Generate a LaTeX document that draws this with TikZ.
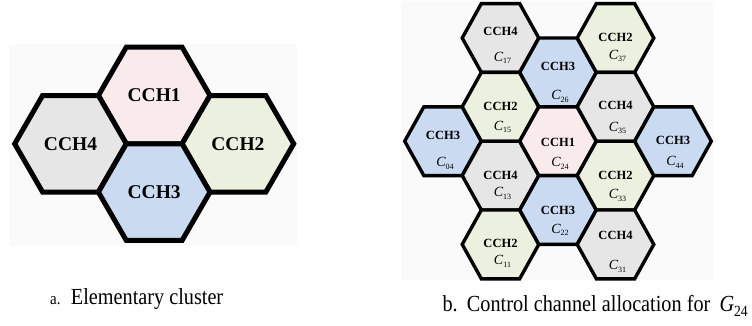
\documentclass[tikz,border=0pt]{standalone}
\usepackage{fontspec}
\setmainfont{Liberation Serif}
\newfontfamily\capfont[FakeStretch=0.88]{Liberation Serif}
\definecolor{pinkc}{HTML}{F9EBEB}
\definecolor{greenc}{HTML}{EBF1DE}
\definecolor{bluec}{HTML}{C9DAF1}
\definecolor{grayc}{HTML}{E6E6E6}
\definecolor{bgc}{HTML}{FAFAFA}
\tikzset{
  hexA/.pic={\path[pic actions] (-55.8,0) -- (-27.9,-48.3) -- (27.9,-48.3) -- (55.8,0) -- (27.9,48.3) -- (-27.9,48.3) -- cycle;},
  hexB/.pic={\path[pic actions] (-38.3,0) -- (-19.15,-34.4) -- (19.15,-34.4) -- (38.3,0) -- (19.15,34.4) -- (-19.15,34.4) -- cycle;},
  cellA/.style={draw=black, line width=5pt, line join=miter},
  cellB/.style={draw=black, line width=3.4pt, line join=miter},
  labA/.style={inner sep=0pt, font=\fontsize{19.5}{20}\selectfont\bfseries},
  labB/.style={inner sep=0pt, font=\fontsize{12.5}{13}\selectfont\bfseries},
  subB/.style={inner sep=0pt, font=\fontsize{14}{15}\selectfont},
  capstyle/.style={inner sep=0pt, font=\capfont\fontsize{23}{24}\selectfont},
  panel/.style={fill=bgc, draw=none}
}
\begin{document}
\begin{tikzpicture}[x=1pt,y=-1pt]
\useasboundingbox (0,0) rectangle (752,325);
\fill[white] (0,0) rectangle (752,325);
% panel backgrounds
\path[panel] (9,44) rectangle (297,246);
\path[panel] (401,1) rectangle (713,280);
% panel a
\pic[cellA, fill=pinkc]  at (154.2,95.5)  {hexA};
\pic[cellA, fill=grayc]  at (70.5,143.8)  {hexA};
\pic[cellA, fill=greenc] at (237.9,143.8) {hexA};
\pic[cellA, fill=bluec]  at (154.2,192.1) {hexA};
\node[labA] (a1) at (154.2,95.5)  {CCH1};
\node[labA] (a4) at (70.5,143.8)  {CCH4};
\node[labA] (a2) at (237.9,143.8) {CCH2};
\node[labA] (a3) at (154.2,192.1) {CCH3};
% panel b
\foreach \x/\y/\c/\k/\s/\da/\db in {
  443/141.2/bluec/3/04/-6/22,
  500.5/38/grayc/4/17/-7/20,
  500.5/106.8/greenc/2/15/0/20,
  500.5/175.6/grayc/4/13/0/18,
  500.5/244.4/greenc/2/11/-1/17,
  558/72.4/bluec/3/26/-6/24,
  558/141.2/pinkc/1/24/1/22,
  558/210/bluec/3/22/0/20,
  615.5/38/greenc/2/37/-1/18,
  615.5/106.8/grayc/4/35/-1/21,
  615.5/175.6/greenc/2/33/0/20,
  615.5/244.4/grayc/4/31/-9/22,
  673/141.2/bluec/3/44/-1/21}{
  \pic[cellB, fill=\c] at (\x,\y) {hexB};
}
\foreach \x/\y/\c/\k/\s/\da/\db in {
  443/141.2/bluec/3/04/-6/22,
  500.5/38/grayc/4/17/-7/20,
  500.5/106.8/greenc/2/15/0/20,
  500.5/175.6/grayc/4/13/0/18,
  500.5/244.4/greenc/2/11/-1/17,
  558/72.4/bluec/3/26/-6/24,
  558/141.2/pinkc/1/24/1/22,
  558/210/bluec/3/22/0/20,
  615.5/38/greenc/2/37/-1/18,
  615.5/106.8/grayc/4/35/-1/21,
  615.5/175.6/greenc/2/33/0/20,
  615.5/244.4/grayc/4/31/-9/22,
  673/141.2/bluec/3/44/-1/21}{
  \node[labB] (h\s) at ({\x},{\y+\da}) {CCH\k};
  \node[subB] (c\s) at ({\x+2},{\y+\db}) {\textit{C}\raisebox{-2.5pt}{\fontsize{8}{8}\selectfont\s}};
}
% captions
\node[capstyle, anchor=base west] (capA) at (50,304)
  {{\fontsize{17}{17}\selectfont a.}\hspace{0.45em}Elementary cluster};
\node[capstyle, anchor=base east] (capB) at (748,311)
  {b.\hspace{0.4em}Control channel allocation for\hspace{0.4em}\textit{G}\raisebox{-5pt}{\fontsize{15.5}{15.5}\selectfont 24}};
\end{tikzpicture}
\end{document}
